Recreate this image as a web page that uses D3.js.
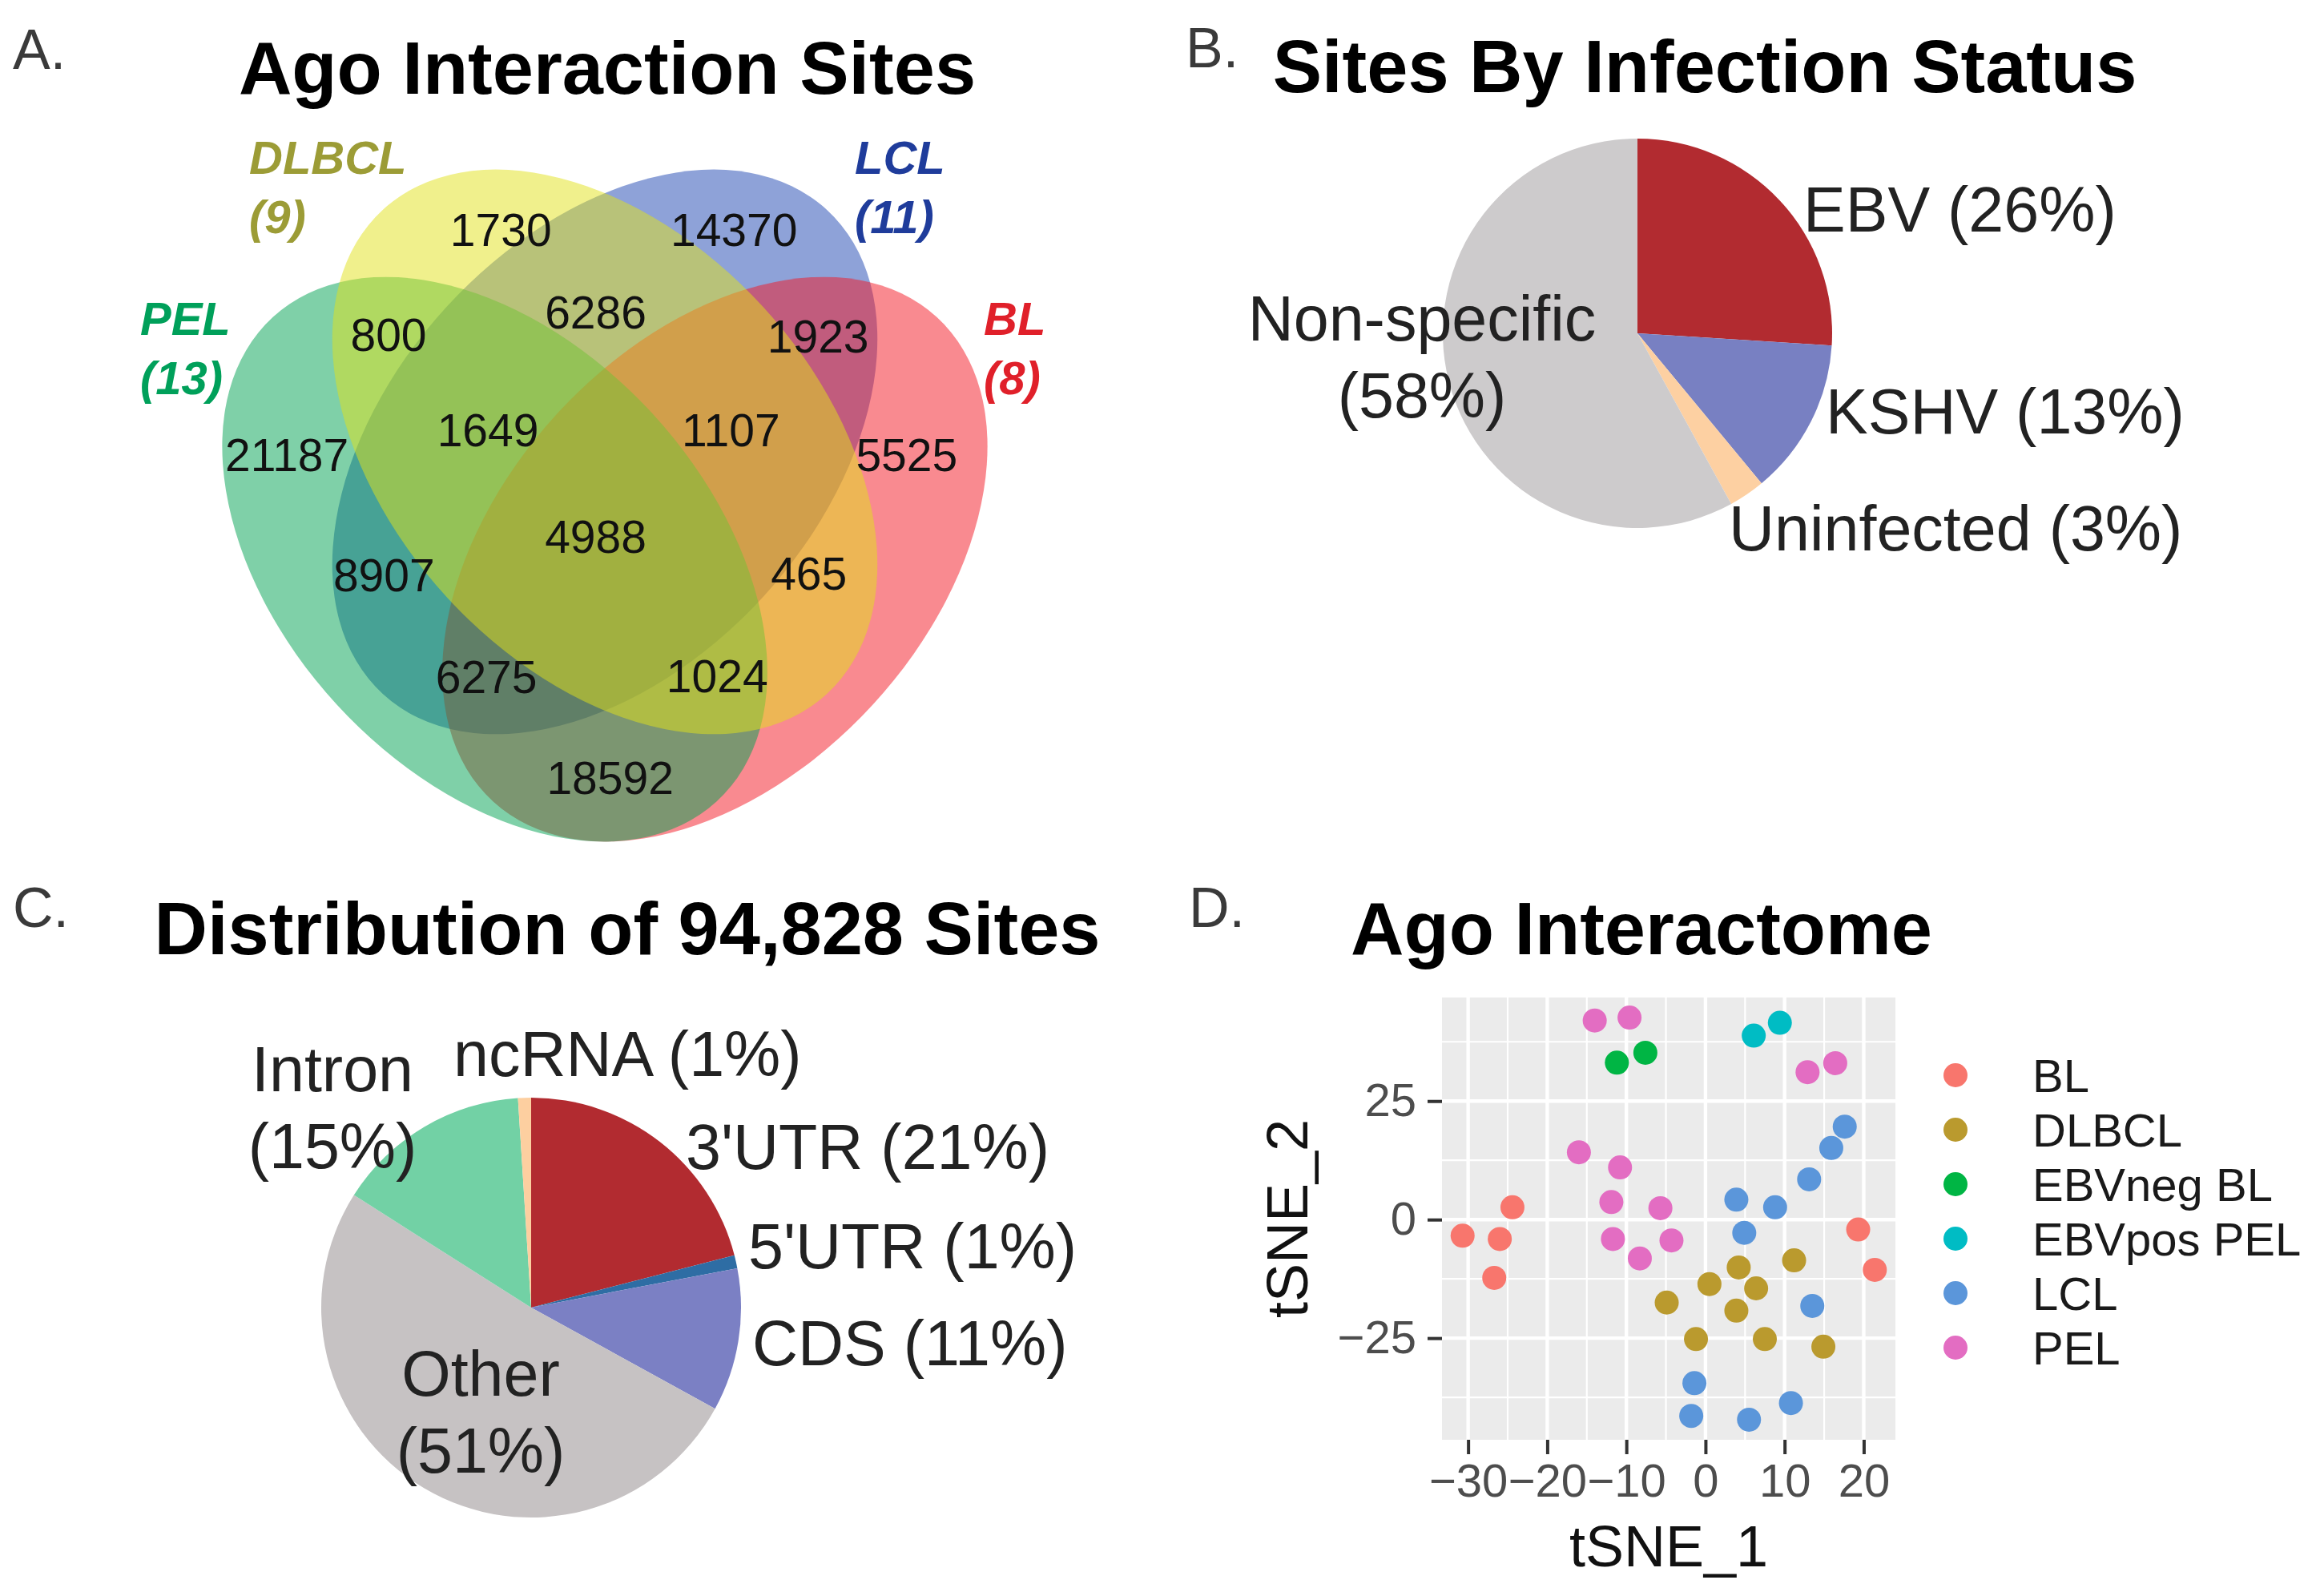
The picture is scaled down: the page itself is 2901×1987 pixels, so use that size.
<!DOCTYPE html>
<html>
<head>
<meta charset="utf-8">
<script src="https://cdn.jsdelivr.net/npm/d3@7"></script>
<style>
  body { margin: 0; background: #fff; }
  text { font-family: "Liberation Sans", Arial, Helvetica, sans-serif; }
</style>
</head>
<body>
<svg id="fig" width="2901" height="1987"></svg>
<script>
// ---------- data ----------
// A. Venn: set names, sample counts, region counts
const vennSets = [`PEL`, `DLBCL`, `LCL`, `BL`];
const vennSampleCounts = [13, 9, 11, 8];
const vennRegionSets = [`DLBCL`, `LCL`, `PEL&DLBCL`, `DLBCL&LCL`, `LCL&BL`, `PEL`, `PEL&DLBCL&LCL`,
  `DLBCL&LCL&BL`, `BL`, `PEL&DLBCL&LCL&BL`, `PEL&LCL`, `DLBCL&BL`, `PEL&LCL&BL`, `PEL&DLBCL&BL`, `PEL&BL`];
const vennRegionCounts = [1730, 14370, 800, 6286, 1923, 21187, 1649, 1107, 5525, 4988, 8907, 465, 6275, 1024, 18592];

// B. sites by infection status (%)
const infectionNames = [`EBV`, `KSHV`, `Uninfected`, `Non-specific`];
const infectionPct = [26, 13, 3, 58];

// C. distribution of sites (%)
const featureNames = [`3'UTR`, `5'UTR`, `CDS`, `Other`, `Intron`, `ncRNA`];
const featurePct = [21, 1, 11, 51, 15, 1];

// D. tSNE of Ago interactome
const tsneGroups = [`BL`, `DLBCL`, `EBVneg BL`, `EBVpos PEL`, `LCL`, `PEL`];
const tsneGroup = [
  `PEL`, `PEL`, `PEL`, `PEL`, `PEL`, `PEL`, `PEL`, `PEL`, `PEL`, `PEL`, `PEL`,
  `EBVneg BL`, `EBVneg BL`, `EBVpos PEL`, `EBVpos PEL`,
  `BL`, `BL`, `BL`, `BL`, `BL`, `BL`,
  `LCL`, `LCL`, `LCL`, `LCL`, `LCL`, `LCL`, `LCL`, `LCL`, `LCL`, `LCL`, `LCL`,
  `DLBCL`, `DLBCL`, `DLBCL`, `DLBCL`, `DLBCL`, `DLBCL`, `DLBCL`, `DLBCL`, `DLBCL`];
const tsne1 = [
  -14.0, -9.6, -16.0, -10.8, -11.9, -5.7, -11.7, -4.3, -8.3, 12.9, 16.4,
  -11.2, -7.6, 6.1, 9.4,
  -30.7, -26.0, -24.4, -26.7, 19.3, 21.4,
  17.6, 15.9, 13.1, 3.9, 8.8, 4.9, 13.5, -1.4, -1.8, 5.5, 10.8,
  11.2, 4.2, 0.5, 6.4, -4.9, 3.9, -1.2, 7.5, 14.9];
const tsne2 = [
  42.0, 42.6, 14.2, 11.0, 3.7, 2.4, -4.1, -4.4, -8.2, 31.1, 33.0,
  33.1, 35.2, 38.8, 41.5,
  -3.4, -4.1, 2.6, -12.3, -2.1, -10.6,
  19.6, 15.1, 8.5, 4.2, 2.6, -2.8, -18.2, -34.5, -41.4, -42.2, -38.7,
  -8.6, -10.1, -13.6, -14.5, -17.5, -19.2, -25.2, -25.2, -26.8];
const tsne1Ticks = [-30, -20, -10, 0, 10, 20];
const tsne2Ticks = [-25, 0, 25];

// ---------- styles / layout ----------
const vennColors = { PEL: `#00a151`, DLBCL: `#e1e119`, LCL: `#1d45b1`, BL: `#f31521` };
const vennLabelColors = { PEL: `#00a05a`, DLBCL: `#9c9c36`, LCL: `#1f3c9b`, BL: `#e0202a` };
const infectionColors = [`#b22b30`, `#7880c2`, `#fdd0a2`, `#cdcbcc`];
const featureColors = [`#b22b30`, `#2e6da4`, `#7b80c4`, `#c6c2c3`, `#72d1a5`, `#fdcfa0`];
const groupColors = [`#f8766d`, `#ba9a2e`, `#00b544`, `#00bcc4`, `#5b96da`, `#e36dc2`];

const svg = d3.select(`#fig`);
const font = `"Liberation Sans", Arial, Helvetica, sans-serif`;

function panelLetter(txt, x, y) {
  svg.append(`text`).attr(`x`, x).attr(`y`, y).attr(`font-size`, 70)
    .attr(`fill`, `#3a3a3a`).text(txt);
}
function panelTitle(txt, x, y) {
  svg.append(`text`).attr(`x`, x).attr(`y`, y).attr(`font-size`, 92)
    .attr(`font-weight`, `bold`).attr(`text-anchor`, `middle`).text(txt);
}

// ================= A. Venn =================
panelLetter(`A.`, 16, 86);
panelTitle(`Ago Interaction Sites`, 758, 117);

const vx = d3.scaleLinear().domain([0, 1]).range([278, 1232]);
const vy = d3.scaleLinear().domain([0, 1]).range([212, 1050]);

// ellipse geometry (centre in venn units, radii in px, rotation deg)
const vennShapes = {
  PEL:   { u: 0.356, v: 0.580, rx: 410, ry: 268, rot: 47.5 },
  DLBCL: { u: 0.5,   v: 0.420, rx: 410, ry: 268, rot: 47.5 },
  LCL:   { u: 0.5,   v: 0.420, rx: 410, ry: 268, rot: -47.5 },
  BL:    { u: 0.644, v: 0.580, rx: 410, ry: 268, rot: -47.5 }
};
const drawOrder = [`LCL`, `BL`, `PEL`, `DLBCL`];

const gVenn = svg.append(`g`);
gVenn.selectAll(`ellipse`)
  .data(drawOrder)
  .enter().append(`ellipse`)
  .attr(`cx`, 0).attr(`cy`, 0)
  .attr(`rx`, d => vennShapes[d].rx)
  .attr(`ry`, d => vennShapes[d].ry)
  .attr(`transform`, d => `translate(${vx(vennShapes[d].u)},${vy(vennShapes[d].v)}) rotate(${vennShapes[d].rot})`)
  .attr(`fill`, d => vennColors[d])
  .attr(`fill-opacity`, 0.5);

// region label positions, in venn units, same order as vennRegionCounts
const vennLabelPos = [
  [0.364, 0.089], [0.669, 0.089], [0.217, 0.246], [0.488, 0.212], [0.779, 0.248],
  [0.084, 0.425], [0.347, 0.388], [0.665, 0.388], [0.895, 0.425], [0.488, 0.547],
  [0.211, 0.604], [0.767, 0.601], [0.345, 0.755], [0.647, 0.754], [0.507, 0.906]];

gVenn.selectAll(`.count`)
  .data(vennRegionCounts)
  .enter().append(`text`)
  .attr(`class`, `count`)
  .attr(`x`, (d, i) => vx(vennLabelPos[i][0]))
  .attr(`y`, (d, i) => vy(vennLabelPos[i][1]) + 20)
  .attr(`text-anchor`, `middle`)
  .attr(`font-size`, 57)
  .attr(`fill`, `#111`)
  .text(d => d);

// set name labels: left x, first baseline
const vennNamePos = { PEL: [175, 418], DLBCL: [311, 217], LCL: [1067, 217], BL: [1228, 418] };
vennSets.forEach((s, i) => {
  const t = gVenn.append(`text`)
    .attr(`font-size`, 58).attr(`font-weight`, `bold`).attr(`font-style`, `italic`)
    .attr(`fill`, vennLabelColors[s]);
  t.append(`tspan`).attr(`x`, vennNamePos[s][0]).attr(`y`, vennNamePos[s][1]).text(s);
  t.append(`tspan`).attr(`x`, vennNamePos[s][0]).attr(`y`, vennNamePos[s][1] + 74).text(`(${vennSampleCounts[i]})`);
});

// ================= pies =================
function drawPie(cx, cy, r, names, pct, colors, labelLayout) {
  const g = svg.append(`g`).attr(`transform`, `translate(${cx},${cy})`);
  const arcs = d3.pie().sort(null).value(d => d)(pct);
  g.selectAll(`path`)
    .data(arcs)
    .enter().append(`path`)
    .attr(`d`, d3.arc().innerRadius(0).outerRadius(r))
    .attr(`fill`, (d, i) => colors[i]);

  names.forEach((n, i) => {
    const L = labelLayout[i];
    const t = g.append(`text`).attr(`font-size`, 79).attr(`fill`, `#222`)
      .attr(`text-anchor`, L.anchor);
    if (L.wrap) {
      t.append(`tspan`).attr(`x`, L.dx).attr(`y`, L.dy).text(n);
      t.append(`tspan`).attr(`x`, L.dx).attr(`y`, L.dy + 96).text(`(${pct[i]}%)`);
    } else {
      t.append(`tspan`).attr(`x`, L.dx).attr(`y`, L.dy).text(`${n} (${pct[i]}%)`);
    }
  });
}

// B
panelLetter(`B.`, 1480, 84);
panelTitle(`Sites By Infection Status`, 2128, 115);
drawPie(2044, 416, 243, infectionNames, infectionPct, infectionColors, [
  { dx: 207, dy: -127, anchor: `start` },
  { dx: 235, dy: 125, anchor: `start` },
  { dx: 114, dy: 271, anchor: `start` },
  { dx: -269, dy: 9, anchor: `middle`, wrap: true }
]);

// C
const totalSites = d3.sum(vennRegionCounts);
panelLetter(`C.`, 16, 1157);
panelTitle(`Distribution of ${d3.format(`,`)(totalSites)} Sites`, 783, 1191);
drawPie(663, 1632, 262, featureNames, featurePct, featureColors, [
  { dx: 193, dy: -173, anchor: `start` },
  { dx: 271, dy: -49, anchor: `start` },
  { dx: 276, dy: 72, anchor: `start` },
  { dx: -63, dy: 110, anchor: `middle`, wrap: true },
  { dx: -248, dy: -270, anchor: `middle`, wrap: true },
  { dx: -97, dy: -289, anchor: `start` }
]);

// ================= D. tSNE =================
panelLetter(`D.`, 1484, 1157);
panelTitle(`Ago Interactome`, 2049, 1191);

function padded(vals) {
  const e = d3.extent(vals), p = (e[1] - e[0]) * 0.05;
  return [e[0] - p, e[1] + p];
}
const x = d3.scaleLinear().domain(padded(tsne1)).range([1800, 2366]);
const y = d3.scaleLinear().domain(padded(tsne2)).range([1797, 1245]);
const color = d3.scaleOrdinal().domain(tsneGroups).range(groupColors);

const gD = svg.append(`g`);
gD.append(`rect`)
  .attr(`x`, x.range()[0]).attr(`y`, y.range()[1])
  .attr(`width`, x.range()[1] - x.range()[0])
  .attr(`height`, y.range()[0] - y.range()[1])
  .attr(`fill`, `#ebebeb`);

const xStep = tsne1Ticks[1] - tsne1Ticks[0], yStep = tsne2Ticks[1] - tsne2Ticks[0];
const inX = v => v >= x.domain()[0] && v <= x.domain()[1];
const inY = v => v >= y.domain()[0] && v <= y.domain()[1];
const xMinor = [tsne1Ticks[0] - xStep / 2].concat(tsne1Ticks.map(t => t + xStep / 2)).filter(inX);
const yMinor = [tsne2Ticks[0] - yStep / 2].concat(tsne2Ticks.map(t => t + yStep / 2)).filter(inY);

function gridV(vals, w) {
  gD.selectAll(null).data(vals).enter().append(`line`)
    .attr(`x1`, d => x(d)).attr(`x2`, d => x(d))
    .attr(`y1`, y.range()[0]).attr(`y2`, y.range()[1])
    .attr(`stroke`, `#fff`).attr(`stroke-width`, w);
}
function gridH(vals, w) {
  gD.selectAll(null).data(vals).enter().append(`line`)
    .attr(`y1`, d => y(d)).attr(`y2`, d => y(d))
    .attr(`x1`, x.range()[0]).attr(`x2`, x.range()[1])
    .attr(`stroke`, `#fff`).attr(`stroke-width`, w);
}
gridV(xMinor, 2.2); gridH(yMinor, 2.2);
gridV(tsne1Ticks, 4.4); gridH(tsne2Ticks, 4.4);

gD.selectAll(`.pt`)
  .data(tsne1)
  .enter().append(`circle`)
  .attr(`class`, `pt`)
  .attr(`cx`, d => x(d))
  .attr(`cy`, (d, i) => y(tsne2[i]))
  .attr(`r`, 15)
  .attr(`fill`, (d, i) => color(tsneGroup[i]));

// axes
const xAxis = gD.append(`g`).attr(`transform`, `translate(0,${y.range()[0]})`)
  .call(d3.axisBottom(x).tickValues(tsne1Ticks).tickSize(18).tickPadding(12));
const yAxis = gD.append(`g`).attr(`transform`, `translate(${x.range()[0]},0)`)
  .call(d3.axisLeft(y).tickValues(tsne2Ticks).tickSize(18).tickPadding(14));
[xAxis, yAxis].forEach(a => {
  a.select(`.domain`).remove();
  a.selectAll(`line`).attr(`stroke`, `#333`).attr(`stroke-width`, 4);
  a.selectAll(`text`).attr(`font-size`, 58).attr(`fill`, `#4d4d4d`).attr(`font-family`, font);
});

gD.append(`text`)
  .attr(`x`, (x.range()[0] + x.range()[1]) / 2).attr(`y`, 1955)
  .attr(`text-anchor`, `middle`).attr(`font-size`, 72).attr(`fill`, `#111`)
  .text(`tSNE_1`);
gD.append(`text`)
  .attr(`transform`, `translate(1632,${(y.range()[0] + y.range()[1]) / 2}) rotate(-90)`)
  .attr(`text-anchor`, `middle`).attr(`font-size`, 72).attr(`fill`, `#111`)
  .text(`tSNE_2`);

// legend
const leg = gD.selectAll(`.leg`)
  .data(tsneGroups)
  .enter().append(`g`)
  .attr(`class`, `leg`)
  .attr(`transform`, (d, i) => `translate(2441,${1342 + i * 68})`);
leg.append(`circle`).attr(`r`, 15).attr(`fill`, d => color(d));
leg.append(`text`).attr(`x`, 96).attr(`y`, 21)
  .attr(`font-size`, 58).attr(`fill`, `#1a1a1a`).text(d => d);
</script>
</body>
</html>
